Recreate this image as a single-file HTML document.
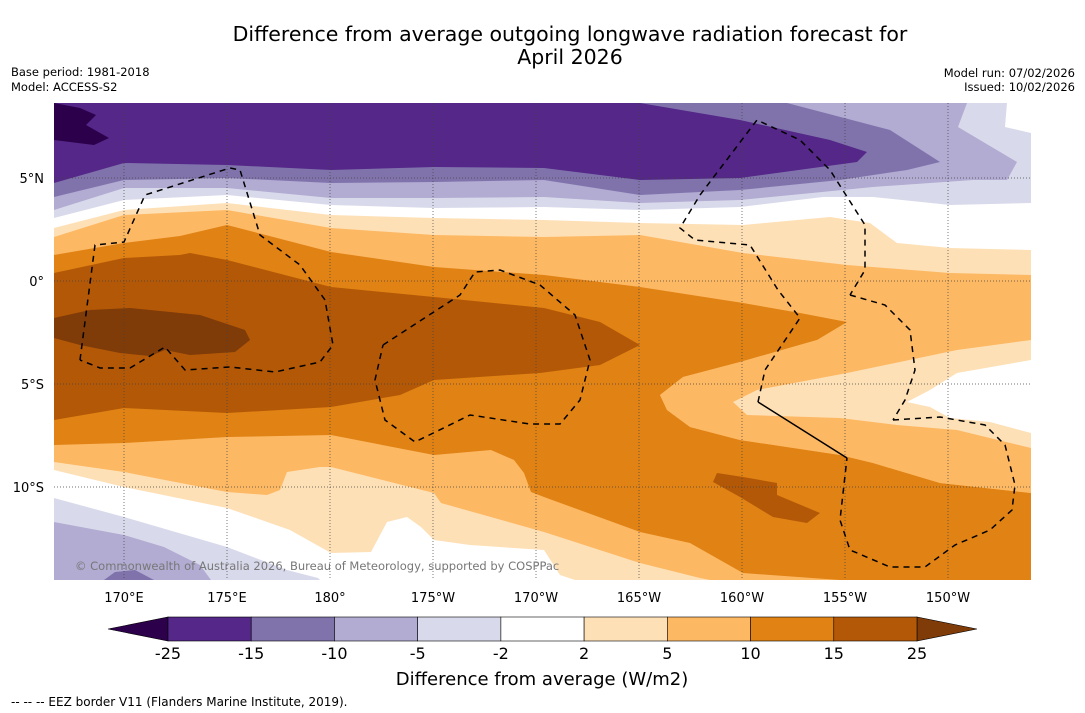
<!DOCTYPE html>
<html><head><meta charset="utf-8"><style>
html,body{margin:0;padding:0;background:#fff;}
svg{display:block;font-family:"DejaVu Sans","Liberation Sans",sans-serif;}
</style></head><body>
<svg id="chart" width="1085" height="713" viewBox="0 0 1085 713">
<rect x="0" y="0" width="1085" height="713" fill="#fff"/>
<text x="570" y="41" font-size="20.5" text-anchor="middle">Difference from average outgoing longwave radiation forecast for</text>
<text x="570" y="64" font-size="20.5" text-anchor="middle">April 2026</text>
<text x="11" y="76" font-size="11.5">Base period: 1981-2018</text>
<text x="11" y="91" font-size="11.5">Model: ACCESS-S2</text>
<text x="1075" y="77" font-size="11.5" text-anchor="end">Model run: 07/02/2026</text>
<text x="1075" y="91" font-size="11.5" text-anchor="end">Issued: 10/02/2026</text>

<g id="map">
<clipPath id="mc"><rect x="54" y="103" width="977" height="477"/></clipPath>
<g clip-path="url(#mc)">
<rect x="54" y="103" width="977" height="477" fill="#ffffff"/>
<polygon fill="#fee0b6" points="54,228 124,210 227,203 331,215 434,218 544,220 640,223 743,225 830,217 870,223 897,243 950,248 1031,250 1031,580 575,580 560,575 544,550 470,545 434,540 421,527 407,517 387,522 371,552 331,553 290,530 227,508 124,487 54,470"/>
<polygon fill="#fdb863" points="54,237 124,215 227,210 331,228 434,235 544,237 640,235 743,253 847,265 950,273 1031,275 1031,580 710,580 700,578 640,563 544,532 441,503 434,493 331,467 320,467 287,472 280,490 267,495 227,492 124,472 54,462"/>
<polygon fill="#e08214" points="54,255 124,243 180,236 227,225 331,252 434,267 544,275 640,287 743,303 800,313 847,322 817,340 740,362 683,377 660,395 667,410 690,427 740,440 840,455 873,463 940,483 1031,493 1031,580 840,580 743,573 690,543 640,532 544,497 531,492 524,473 514,460 491,450 434,455 331,435 227,437 124,443 54,445"/>
<polygon fill="#fdb863" points="1031,340 957,350 847,373 817,340 740,362 683,377 660,395 667,410 690,427 740,440 840,455 873,463 940,483 1031,493"/>
<polygon fill="#fee0b6" points="1031,340 957,350 847,373 757,390 733,402 747,415 840,418 897,425 957,430 1031,448"/>
<polygon fill="#ffffff" points="1031,360 957,373 930,390 907,402 930,407 950,418 990,422 1031,433"/>
<polygon fill="#b35806" points="54,273 124,258 180,255 190,253 227,260 331,287 434,297 544,308 600,322 640,345 600,365 540,373 434,380 400,395 331,407 227,413 124,408 54,420"/>
<polygon fill="#b35806" points="713,482 717,473 743,477 777,483 777,495 820,513 807,523 773,517 740,497"/>
<polygon fill="#7f3b08" points="54,318 90,310 130,308 200,315 245,330 250,340 235,352 190,355 165,350 150,356 120,353 80,345 54,338"/>
<polygon fill="#d8daeb" points="54,103 1007,103 1005,127 1031,133 1031,203 950,205 873,197 823,197 740,207 640,210 544,207 434,208 331,205 227,195 124,200 54,218"/>
<polygon fill="#b2abd2" points="54,103 967,103 958,127 1017,162 1007,180 973,180 873,187 740,200 640,203 544,197 434,198 331,198 227,188 124,188 54,210"/>
<polygon fill="#8073ac" points="54,103 787,103 890,130 940,162 907,170 840,180 740,190 640,195 544,180 434,182 331,183 227,178 124,180 54,197"/>
<polygon fill="#542788" points="54,103 640,103 740,120 830,140 867,152 857,162 740,178 640,180 544,168 434,167 331,170 227,165 124,163 54,183"/>
<polygon fill="#2d004b" points="54,103 80,108 96,115 86,125 109,138 94,145 54,140"/>
<polygon fill="#d8daeb" points="54,498 124,517 227,547 287,570 318,578 320,580 54,580"/>
<polygon fill="#b2abd2" points="54,522 124,535 164,547 200,565 211,580 54,580"/>
<polygon fill="#8073ac" points="104,580 115,572 135,570 154,580"/>
<g id="grid" stroke="#444" stroke-width="0.7" stroke-dasharray="1,2"></g>
<g fill="none" stroke="#000" stroke-width="1.5">
<polyline stroke-dasharray="6,5" points="80,360 95,245 124,242 145,195 230,168 240,170 260,235 300,265 325,300 333,345 320,362 275,372 230,367 185,370 165,347 130,368 100,368 80,360"/>
<polyline stroke-dasharray="6,5" points="383,345 460,295 475,272 500,270 540,285 575,315 590,360 580,400 560,424 530,424 470,415 415,442 385,420 375,380 383,345"/>
<polyline stroke-dasharray="6,5" points="758,402 765,370 800,318 778,290 750,245 695,240 680,228 700,195 757,120 800,140 830,170 865,225 865,270 850,295"/>
<polyline stroke-dasharray="6,5" points="850,295 885,305 910,330 915,370 905,400 893,420"/>
<polyline stroke-dasharray="6,5" points="893,420 940,417 985,425 1005,445 1015,485 1012,510 990,530 955,545 925,567 890,567 850,550 840,520 847,458"/>
<polyline points="847,458 758,402"/>
</g>
<text x="75" y="570" font-size="11.5" fill="#777">© Commonwealth of Australia 2026, Bureau of Meteorology, supported by COSPPac</text>
</g>
</g>
<g id="axes" font-size="13"></g>
<g id="colorbar"></g>
<text x="542" y="685" font-size="18" text-anchor="middle">Difference from average (W/m2)</text>
<text x="11" y="706" font-size="12">--  --  -- EEZ border V11 (Flanders Marine Institute, 2019).</text>
</svg>
<script>
const lonTicks = [170, 175, 180, -175, -170, -165, -160, -155, -150];
const lonLabels = ["170°E","175°E","180°","175°W","170°W","165°W","160°W","155°W","150°W"];
const latTicks = [5, 0, -5, -10];
const latLabels = ["5°N","0°","5°S","10°S"];
const cbLevels = [-25, -15, -10, -5, -2, 2, 5, 10, 15, 25];
const cbColors = ["#2d004b","#542788","#8073ac","#b2abd2","#d8daeb","#ffffff","#fee0b6","#fdb863","#e08214","#b35806","#7f3b08"];

const NS = "http://www.w3.org/2000/svg";
function xLon(l){ const e = l < 0 ? 360 + l : l; return 124 + (e - 170) * 20.6; }
function yLat(l){ return 281 - l * 20.6; }
function mk(tag, attrs, parent){ const el = document.createElementNS(NS, tag); for (const k in attrs) el.setAttribute(k, attrs[k]); parent.appendChild(el); return el; }
const grid = document.getElementById("grid");
const axes = document.getElementById("axes");
lonTicks.forEach((l, i) => {
  const x = xLon(l);
  const ln = mk("line", {x1:x, y1:103, x2:x, y2:580}, grid);
  
  
  const t = mk("text", {x:x, y:602, "text-anchor":"middle"}, axes);
  t.textContent = lonLabels[i];
  
  
});
latTicks.forEach((l, i) => {
  const y = yLat(l);
  const ln = mk("line", {x1:54, y1:y, x2:1031, y2:y}, grid);
  
  
  const t = mk("text", {x:44, y:y + 5, "text-anchor":"end"}, axes);
  t.textContent = latLabels[i];
  
  
});
const cb = document.getElementById("colorbar");
const cbX0 = 168, cbX1 = 917, cbY = 617, cbH = 24;
const segW = (cbX1 - cbX0) / (cbLevels.length - 1);
function xIdx(i){ return cbX0 + i * segW; }
const lt = mk("polygon", {points:`${cbX0},${cbY} ${cbX0},${cbY+cbH} 108,${cbY+cbH/2}`, fill:cbColors[0], stroke:"#000", "stroke-width":0.6}, cb);


const rt = mk("polygon", {points:`${cbX1},${cbY} ${cbX1},${cbY+cbH} 977,${cbY+cbH/2}`, fill:cbColors[cbColors.length-1], stroke:"#000", "stroke-width":0.6}, cb);


for (let i = 0; i < cbLevels.length - 1; i++) {
  const r = mk("rect", {x:xIdx(i), y:cbY, width:segW, height:cbH, fill:cbColors[i+1], stroke:"#000", "stroke-width":0.6}, cb);
  
  
}
cbLevels.forEach((v, i) => {
  const t = mk("text", {x:xIdx(i), y:659, "text-anchor":"middle", "font-size":16}, cb);
  t.textContent = String(v);
  
  
});
</script>
</body></html>
